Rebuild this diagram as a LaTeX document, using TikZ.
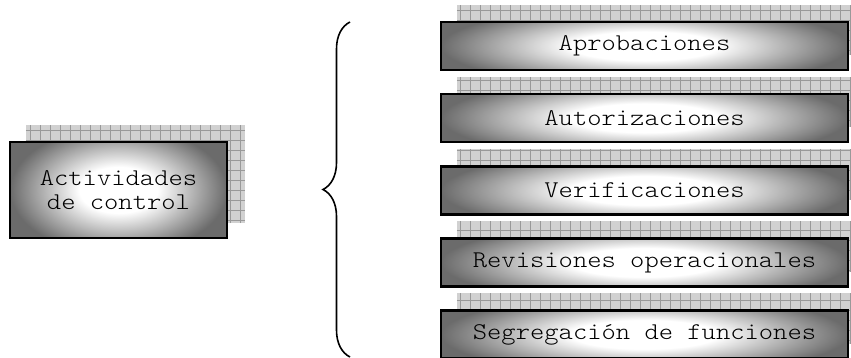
\documentclass[tikz,border=0pt]{standalone}
\usepackage{fontspec}
\setmonofont{lmmonolt10-regular.otf}[FakeStretch=1.135]
\usetikzlibrary{decorations.pathreplacing,backgrounds}
\pgfdeclareradialshading{boxglow}{\pgfpoint{0bp}{0bp}}{color(0bp)=(white); color(9bp)=(white); color(25bp)=(black!58); color(50bp)=(black!58)}

\begin{document}
\begin{tikzpicture}[x=0.5pt,y=-0.5pt,
    box/.style={draw=black,line width=1.2pt,minimum width=203.5pt,minimum height=24pt,inner sep=0pt,
      font=\ttfamily\fontsize{12}{12}\selectfont,
      path picture={\shade[shading=boxglow] ([yshift=-8pt]path picture bounding box.south west) rectangle ([yshift=8pt]path picture bounding box.north east);}},
    gridshadow/.style={fill=black!18},
    gridlines/.style={draw=black!40,line width=0.3pt,step=5pt}]
    \useasboundingbox (0,0) rectangle (851,358);

         \node[box,minimum width=108.5pt,minimum height=48pt,align=center](A) at (118.5,190) {Actividades\\de control};
         \node[box](B) at (644.5,46) {Aprobaciones};
         \node[box](C) at (644.5,118) {Autorizaciones};
         \node[box](D) at (644.5,190.5) {Verificaciones};
         \node[box](E) at (644.5,262.5) {Revisiones operacionales};
         \node[box](F) at (644.5,334.5) {Segregaci\'on de funciones};

         % grid shadows behind the boxes
         \begin{scope}[on background layer]
         \foreach \n in {A,B,C,D,E,F}{
           \fill[gridshadow] ([shift={(17,-16)}]\n.south west) rectangle ([shift={(17,-16)}]\n.north east);
           \draw[gridlines] ([shift={(17,-16)}]\n.south west) grid ([shift={(17,-16)}]\n.north east);
         }
         \end{scope}

         \coordinate (T) at (350,22);
         \coordinate (U) at (350,357);
         \draw[line width=0.8pt,decorate,decoration={brace,amplitude=13.5pt}](U) -- (T);
\end{tikzpicture}
\end{document}
